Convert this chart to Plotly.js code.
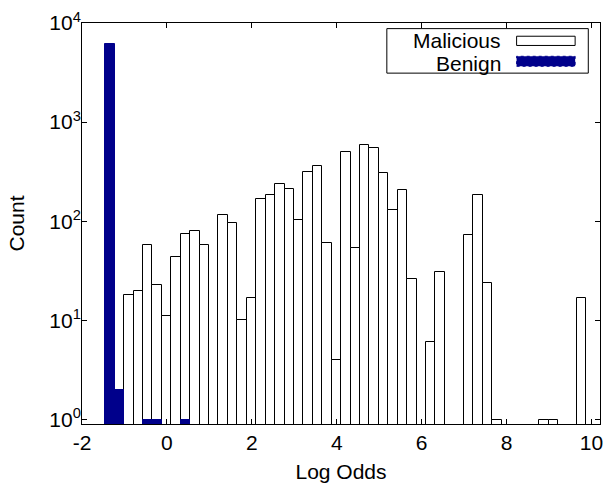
<!DOCTYPE html>
<html>
<head>
<meta charset="utf-8">
<script src="https://cdn.plot.ly/plotly-3.0.1.min.js"></script>
<style>html,body{margin:0;padding:0;background:#fff;}#chart{width:605px;height:489px;}</style>
</head>
<body>
<div id="chart"></div>
<script>
// Bin centres (log odds)
const binCenters = [-1.341, -1.119, -0.897, -0.674, -0.452, -0.230, -0.008, 0.214, 0.437, 0.659,
  0.881, 1.103, 1.325, 1.548, 1.770, 1.992, 2.214, 2.436, 2.659, 2.881,
  3.103, 3.325, 3.547, 3.770, 3.992, 4.214, 4.436, 4.658, 4.881, 5.103,
  5.325, 5.547, 5.769, 5.992, 6.214, 6.436, 6.658, 6.880, 7.103, 7.325,
  7.547, 7.769, 7.991, 8.214, 8.436, 8.658, 8.880, 9.102, 9.325, 9.547, 9.769];
const binWidth = 0.2222;

const maliciousCounts = [null, null, 18, 20, 58, 23, 11, 44, 74, 80,
  57, null, 117, 95, 10, 17, 169, 185, 240, 212,
  102, 316, 359, 61, 4, 500, 54, 582, 550, 307,
  131, 206, 26, null, 6, 31, null, null, 73, 183,
  24, 1, null, null, null, null, 1, 1, null, null, 17];

const benignCounts = [6100, 2, null, null, 1, 1, null, null, 1, null,
  null, null, null, null, null, null, null, null, null, null,
  null, null, null, null, null, null, null, null, null, null,
  null, null, null, null, null, null, null, null, null, null,
  null, null, null, null, null, null, null, null, null, null, null];

const seriesNames = ["Malicious", "Benign"];
const xTickVals = [-2, 0, 2, 4, 6, 8, 10];
const xTickText = ["-2", "0", "2", "4", "6", "8", "10"];
const yTickVals = [1, 10, 100, 1000, 10000];
const yTickText = ["10<sup>0</sup>", "10<sup>1</sup>", "10<sup>2</sup>", "10<sup>3</sup>", "10<sup>4</sup>"];

const navy = "#00008b";
const font = {family: "Liberation Sans, Arial, sans-serif", size: 21, color: "#000"};

const traces = [
  {type: "bar", name: seriesNames[0], x: binCenters, y: maliciousCounts, width: binWidth,
   marker: {color: "#ffffff", line: {color: "#000000", width: 1}}, showlegend: false},
  {type: "bar", name: seriesNames[1], x: binCenters, y: benignCounts, width: binWidth,
   marker: {color: navy, line: {color: navy, width: 1}}, showlegend: false}
];

const layout = {
  width: 605, height: 489,
  margin: {l: 82, r: 5, t: 23, b: 65},
  paper_bgcolor: "#fff", plot_bgcolor: "#fff",
  font: font,
  barmode: "overlay",
  bargap: 0,
  showlegend: false,
  xaxis: {
    range: [-2, 10.2], tickvals: xTickVals, ticktext: xTickText,
    ticks: "inside", ticklen: 5, tickcolor: "#000", tickwidth: 1,
    showline: true, linecolor: "#000", linewidth: 1, mirror: "ticks",
    showgrid: false, zeroline: false,
    title: {text: "Log Odds", font: font, standoff: 11},
    tickfont: font
  },
  yaxis: {
    type: "log", range: [-0.045, 4.0], tickvals: yTickVals, ticktext: yTickText,
    ticks: "inside", ticklen: 5, tickcolor: "#000", tickwidth: 1,
    showline: true, linecolor: "#000", linewidth: 1, mirror: "ticks",
    showgrid: false, zeroline: false,
    ticklabelstandoff: -4,
    title: {text: "Count", font: font, standoff: 18},
    tickfont: font
  },
  shapes: [
    {type: "rect", xref: "paper", yref: "paper", x0: 0.5885, x1: 0.9774, y0: 0.875, y1: 0.986,
     line: {color: "#000", width: 1}, fillcolor: "#fff"},
    {type: "rect", xref: "paper", yref: "paper", x0: 0.839, x1: 0.952, y0: 0.944, y1: 0.967,
     line: {color: "#000", width: 1}, fillcolor: "#fff"},
    {type: "rect", xref: "paper", yref: "paper", x0: 0.839, x1: 0.952, y0: 0.892, y1: 0.917,
     line: {color: navy, width: 1, dash: "dot"}, fillcolor: navy}
  ],
  annotations: [
    {xref: "paper", yref: "paper", x: 0.813, y: 0.957, xanchor: "right", yanchor: "middle",
     text: seriesNames[0], showarrow: false, font: font},
    {xref: "paper", yref: "paper", x: 0.813, y: 0.900, xanchor: "right", yanchor: "middle",
     text: seriesNames[1], showarrow: false, font: font}
  ]
};

Plotly.newPlot("chart", traces, layout, {displayModeBar: false});
</script>
</body>
</html>
